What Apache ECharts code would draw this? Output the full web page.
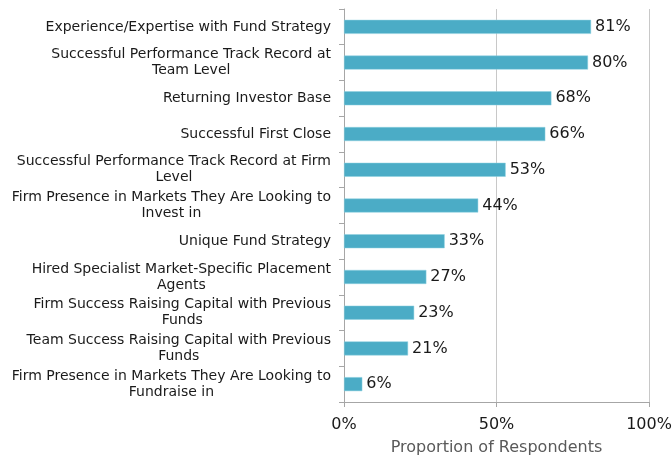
<!DOCTYPE html>
<html>
<head>
<meta charset="utf-8">
<script src="https://cdn.jsdelivr.net/npm/echarts@6/dist/echarts.min.js"></script>
</head>
<body style="margin:0;background:#fff">
<div id="chart" style="width:672px;height:457px;"></div>
<script type="text/javascript">
    // categories, top to bottom (line breaks as in the original labels)
    var factors = [
        'Experience/Expertise with Fund Strategy',
        'Successful Performance Track Record at\nTeam Level',
        'Returning Investor Base',
        'Successful First Close',
        'Successful Performance Track Record at Firm\nLevel',
        'Firm Presence in Markets They Are Looking to\nInvest in',
        'Unique Fund Strategy',
        'Hired Specialist Market-Specific Placement\nAgents',
        'Firm Success Raising Capital with Previous\nFunds',
        'Team Success Raising Capital with Previous\nFunds',
        'Firm Presence in Markets They Are Looking to\nFundraise in'
    ];
    var shares = [81, 80, 68, 66, 53, 44, 33, 27, 23, 21, 6];
    var xTicks = [0, 50, 100];

    var font = 'DejaVu Sans';
    var chart = echarts.init(document.getElementById('chart'));

    var option = {
        animation: false,
        textStyle: { fontFamily: font },
        grid: { left: 344, right: 23, top: 9, bottom: 55, outerBoundsMode: 'none' },
        xAxis: {
            type: 'value',
            min: 0,
            max: 100,
            interval: 50,
            name: 'Proportion of Respondents',
            nameLocation: 'middle',
            nameGap: 38,
            nameTextStyle: { fontSize: 16, color: '#595959', fontFamily: font },
            axisLine: { show: true, lineStyle: { color: '#a6a6a6' } },
            axisTick: { show: true, length: 5, lineStyle: { color: '#a6a6a6' } },
            axisLabel: {
                fontSize: 16, color: '#1a1a1a', margin: 15,
                formatter: function (v) { return xTicks.indexOf(v) >= 0 ? v + '%' : ''; }
            },
            splitLine: { show: true, lineStyle: { color: '#c8c8c8' } }
        },
        yAxis: {
            type: 'category',
            inverse: true,
            data: factors,
            axisLine: { show: true, lineStyle: { color: '#a6a6a6' } },
            axisTick: { show: true, length: 5, lineStyle: { color: '#a6a6a6' } },
            axisLabel: {
                margin: 13,
                align: 'right',
                lineHeight: 16,
                fontSize: 14,
                color: '#1a1a1a',
                formatter: function (v) {
                    return v.split('\n').map(function (s) { return '{c|' + s + '}'; }).join('\n');
                },
                rich: {
                    c: { align: 'center', fontSize: 14, lineHeight: 16, color: '#1a1a1a', fontFamily: font }
                }
            }
        },
        series: [{
            type: 'bar',
            data: shares,
            barWidth: 14,
            itemStyle: { color: '#4bacc6', borderColor: '#8fd0e0', borderWidth: 0.5 },
            label: {
                show: true,
                position: 'right',
                distance: 4,
                fontSize: 16,
                color: '#1a1a1a',
                formatter: '{c}%'
            }
        }]
    };

    chart.setOption(option);
</script>
</body>
</html>
